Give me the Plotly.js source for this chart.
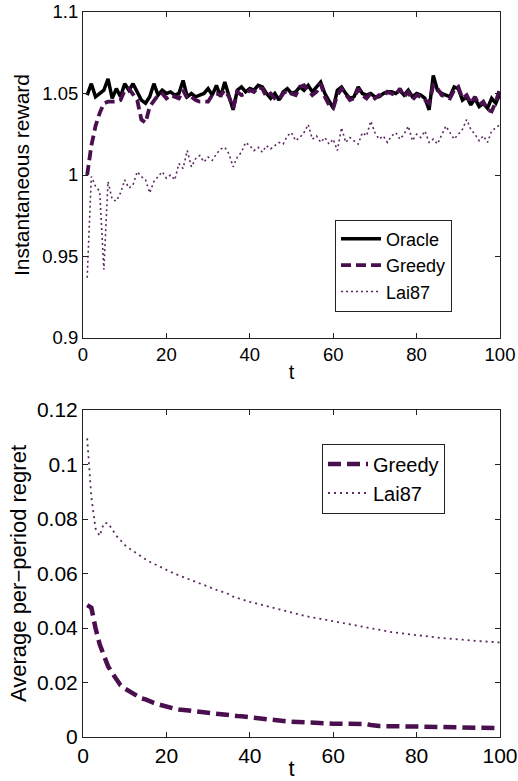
<!DOCTYPE html>
<html>
<head>
<meta charset="utf-8">
<script src="https://cdn.plot.ly/plotly-3.0.1.min.js"></script>
<style>html,body{margin:0;padding:0;background:#fff;}#chart{width:518px;height:781px;}</style>
</head>
<body>
<div id="chart"></div>
<script>
// ---------- data ----------
var t = [];
for (var i = 1; i <= 100; i++) t.push(i);

var oracleReward = [
1.049,1.056,1.048,1.050,1.052,1.059,1.047,1.053,1.048,1.056,
1.052,1.056,1.051,1.046,1.044,1.048,1.056,1.049,1.052,1.050,
1.051,1.049,1.050,1.058,1.048,1.050,1.048,1.049,1.050,1.053,
1.049,1.055,1.048,1.057,1.049,1.040,1.052,1.054,1.051,1.053,
1.052,1.055,1.054,1.050,1.047,1.050,1.046,1.051,1.053,1.050,
1.051,1.054,1.052,1.055,1.051,1.054,1.057,1.050,1.045,1.041,
1.052,1.054,1.050,1.047,1.048,1.054,1.050,1.049,1.050,1.048,
1.048,1.050,1.051,1.051,1.050,1.052,1.049,1.052,1.048,1.050,
1.049,1.047,1.040,1.061,1.052,1.050,1.049,1.048,1.054,1.053,
1.046,1.048,1.043,1.047,1.042,1.044,1.041,1.047,1.044,1.050];

var greedyReward = [
1.000,1.018,1.030,1.038,1.044,1.045,1.045,1.045,1.046,1.052,
1.053,1.049,1.046,1.034,1.032,1.042,1.046,1.049,1.050,1.047,
1.049,1.048,1.047,1.052,1.047,1.048,1.046,1.045,1.045,1.045,
1.049,1.050,1.049,1.052,1.048,1.041,1.051,1.049,1.050,1.052,
1.051,1.054,1.053,1.048,1.050,1.047,1.046,1.050,1.052,1.050,
1.049,1.054,1.055,1.052,1.049,1.051,1.056,1.048,1.043,1.041,
1.049,1.053,1.049,1.046,1.047,1.053,1.049,1.047,1.050,1.047,
1.049,1.048,1.051,1.050,1.049,1.053,1.048,1.051,1.046,1.049,
1.048,1.046,1.044,1.055,1.053,1.049,1.048,1.047,1.052,1.054,
1.047,1.049,1.044,1.048,1.043,1.045,1.040,1.039,1.045,1.053];

var lai87Reward = [
0.937,0.999,0.993,0.990,0.942,0.996,0.985,0.984,0.989,0.997,
0.992,0.994,1.002,0.999,0.997,0.989,0.996,0.999,1.002,0.998,
1.000,0.997,1.007,1.004,1.015,1.005,1.010,1.012,1.008,1.011,
1.009,1.013,1.016,1.017,1.013,1.005,1.011,1.014,1.020,1.018,
1.015,1.017,1.014,1.018,1.016,1.018,1.020,1.019,1.024,1.026,
1.021,1.023,1.026,1.031,1.022,1.024,1.020,1.023,1.019,1.022,
1.015,1.029,1.020,1.023,1.021,1.019,1.026,1.024,1.033,1.026,
1.022,1.024,1.020,1.024,1.026,1.022,1.025,1.030,1.021,1.025,
1.023,1.027,1.020,1.022,1.019,1.024,1.030,1.026,1.022,1.025,
1.028,1.034,1.028,1.025,1.021,1.024,1.020,1.027,1.029,1.031];

var greedyRegret = [
0.0484,0.0475,0.0400,0.0340,0.0300,0.0260,0.0235,0.0210,0.0190,0.0178,
0.0168,0.0158,0.0149,0.0142,0.0138,0.0130,0.0125,0.0120,0.0115,0.0111,
0.0108,0.0104,0.0101,0.0099,0.0097,0.0095,0.0093,0.0091,0.0089,0.0087,
0.0085,0.0083,0.0082,0.0081,0.0079,0.0079,0.0077,0.0076,0.0074,0.0073,
0.0071,0.0068,0.0065,0.0063,0.0061,0.0060,0.0059,0.0058,0.0057,0.0056,
0.0055,0.0054,0.0052,0.0051,0.0050,0.0050,0.0050,0.0050,0.0049,0.0049,
0.0049,0.0049,0.0049,0.0049,0.0049,0.0048,0.0048,0.0047,0.0044,0.0041,
0.0040,0.0040,0.0040,0.0040,0.0040,0.0040,0.0039,0.0039,0.0039,0.0038,
0.0038,0.0038,0.0037,0.0037,0.0037,0.0037,0.0036,0.0036,0.0036,0.0036,
0.0035,0.0035,0.0035,0.0035,0.0034,0.0034,0.0034,0.0034,0.0033,0.0033];

var lai87Regret = [
0.1096,0.0880,0.0765,0.0738,0.0785,0.0785,0.0762,0.0738,0.0722,0.0705,
0.0693,0.0682,0.0672,0.0663,0.0652,0.0643,0.0635,0.0627,0.0620,0.0613,
0.0606,0.0599,0.0593,0.0587,0.0580,0.0574,0.0568,0.0562,0.0556,0.0550,
0.0545,0.0540,0.0535,0.0530,0.0524,0.0515,0.0510,0.0504,0.0500,0.0496,
0.0492,0.0488,0.0484,0.0480,0.0476,0.0471,0.0467,0.0463,0.0459,0.0456,
0.0452,0.0448,0.0445,0.0442,0.0439,0.0436,0.0433,0.0430,0.0427,0.0425,
0.0422,0.0419,0.0417,0.0414,0.0411,0.0408,0.0405,0.0402,0.0399,0.0396,
0.0393,0.0390,0.0388,0.0385,0.0383,0.0381,0.0379,0.0377,0.0375,0.0373,
0.0371,0.0370,0.0368,0.0366,0.0365,0.0363,0.0362,0.0360,0.0359,0.0358,
0.0357,0.0355,0.0354,0.0353,0.0352,0.0351,0.0350,0.0349,0.0348,0.0347];

var xTickVals = [0, 20, 40, 60, 80, 100];
var xTickText = ['0', '20', '40', '60', '80', '100'];
var topYTickVals = [0.9, 0.95, 1, 1.05, 1.1];
var topYTickText = ['0.9', '0.95', '1', '1.05', '1.1'];
var botYTickVals = [0, 0.02, 0.04, 0.06, 0.08, 0.1, 0.12];
var botYTickText = ['0', '0.02', '0.04', '0.06', '0.08', '0.1', '0.12'];

var seriesNames = ['Oracle', 'Greedy', 'Lai87'];
var topTitleY = 'Instantaneous reward';
var botTitleY = 'Average per\u2212period regret';
var titleX = 't';

// ---------- styling ----------
var purple = '#4a0f4e';
var purpleLight = '#5b2a60';
var FONT = 'Liberation Sans, Arial, Helvetica, sans-serif';

var traces = [
  {x: t, y: oracleReward, name: seriesNames[0], mode: 'lines', xaxis: 'x', yaxis: 'y', legend: 'legend',
   line: {color: '#000000', width: 3.5}},
  {x: t, y: greedyReward, name: seriesNames[1], mode: 'lines', xaxis: 'x', yaxis: 'y', legend: 'legend',
   line: {color: purple, width: 3.8, dash: '10px,5px'}},
  {x: t, y: lai87Reward, name: seriesNames[2], mode: 'lines', xaxis: 'x', yaxis: 'y', legend: 'legend',
   line: {color: purpleLight, width: 1.6, dash: '2px,3px'}},
  {x: t, y: greedyRegret, name: seriesNames[1], mode: 'lines', xaxis: 'x2', yaxis: 'y2', legend: 'legend2',
   line: {color: purple, width: 4.5, dash: '13px,6px'}},
  {x: t, y: lai87Regret, name: seriesNames[2], mode: 'lines', xaxis: 'x2', yaxis: 'y2', legend: 'legend2',
   line: {color: purpleLight, width: 1.8, dash: '2px,4px'}}
];

function axisBase(fs) {
  return {
    showline: true, linecolor: '#222', linewidth: 1, mirror: 'ticks',
    ticks: 'inside', ticklen: 5, tickwidth: 1, tickcolor: '#222',
    showgrid: false, zeroline: false,
    tickfont: {family: FONT, size: fs, color: '#000'},
    fixedrange: true
  };
}

var xa = axisBase(18.5);
Object.assign(xa, {domain: [83/518, 500/518], range: [0, 100], tickvals: xTickVals, ticktext: xTickText,
  anchor: 'y', title: {text: titleX, font: {family: FONT, size: 20, color: '#000'}, standoff: 0}});
var ya = axisBase(18.5);
Object.assign(ya, {domain: [1 - 338/781, 1 - 12/781], range: [0.9, 1.1], tickvals: topYTickVals, ticktext: topYTickText,
  anchor: 'x', title: {text: topTitleY, font: {family: FONT, size: 21, color: '#000'}, standoff: 6}});
var xa2 = axisBase(21);
Object.assign(xa2, {domain: [83/518, 500/518], range: [0, 100], tickvals: xTickVals, ticktext: xTickText,
  anchor: 'y2', title: {text: titleX, font: {family: FONT, size: 22, color: '#000'}, standoff: 0}});
var ya2 = axisBase(21);
Object.assign(ya2, {domain: [1 - 737/781, 1 - 410/781], range: [0, 0.12], tickvals: botYTickVals, ticktext: botYTickText,
  anchor: 'x2', title: {text: botTitleY, font: {family: FONT, size: 22, color: '#000'}, standoff: 4}});

var legendBase = {
  bgcolor: '#ffffff', bordercolor: '#222', borderwidth: 1,
  xanchor: 'left', yanchor: 'middle', tracegroupgap: 0, itemwidth: 40
};
var leg1 = Object.assign({}, legendBase, {x: 335/518, y: 1 - 265.5/781,
  font: {family: FONT, size: 18, color: '#000'}});
var leg2 = Object.assign({}, legendBase, {x: 322/518, y: 1 - 478.5/781,
  font: {family: FONT, size: 20, color: '#000'}});

var layout = {
  width: 518, height: 781,
  margin: {l: 0, r: 0, t: 0, b: 0},
  paper_bgcolor: '#fff', plot_bgcolor: '#fff',
  showlegend: true,
  font: {family: FONT, color: '#000'},
  xaxis: xa, yaxis: ya, xaxis2: xa2, yaxis2: ya2,
  legend: leg1, legend2: leg2
};

Plotly.newPlot('chart', traces, layout, {staticPlot: true, displayModeBar: false});
</script>
</body>
</html>
